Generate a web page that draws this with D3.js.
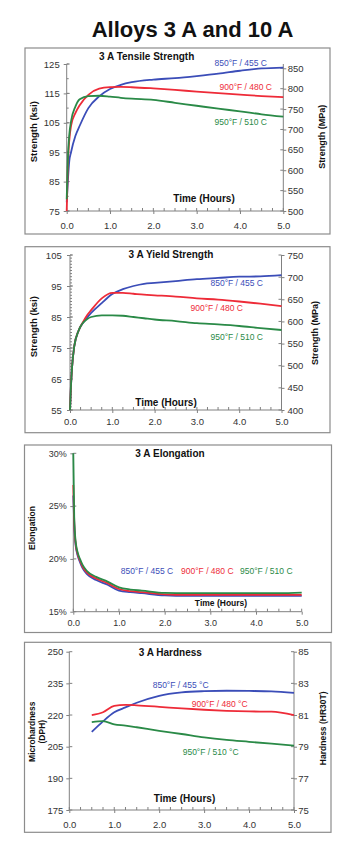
<!DOCTYPE html>
<html lang="en">
<head>
<meta charset="utf-8">
<title>Alloys 3 A and 10 A</title>
<script src="https://d3js.org/d3.v7.min.js"></script>
<style>
  body { margin: 0; background: #fff; }
</style>
</head>
<body>
<script>
// ---- data ----
var xTickValues = [0, 1, 2, 3, 4, 5];
var seriesNames = ["850°F / 455 C", "900°F / 480 C", "950°F / 510 C"];
var hardnessNames = ["850°F / 455 °C", "900°F / 480 °C", "950°F / 510 °C"];

// tensile strength (ksi)
var tensileHours = [0, 0.03, 0.06, 0.1, 0.2, 0.3, 0.5, 0.75, 1.0, 1.25, 1.5, 2.0, 2.5, 3.0, 3.5, 4.0, 4.5, 5.0];
var tensile850 = [78, 86, 92, 95, 100.5, 104, 110, 114, 116.5, 117.9, 118.8, 119.7, 120.2, 120.9, 121.7, 122.7, 123.5, 123.8];
var tensile900 = [75, 92, 99, 104, 108.3, 111, 114.5, 116.6, 117.1, 117.2, 117.1, 116.7, 116.2, 115.6, 115.1, 114.6, 114.1, 113.7];
var tensile950 = [79, 94, 101, 105.5, 110.5, 113, 114.1, 114.2, 113.9, 113.5, 113.2, 112.8, 111.8, 110.8, 109.8, 108.9, 107.9, 107.1];
var tensileTicks = [75, 85, 95, 105, 115, 125];
var tensileMpaTicks = [500, 550, 600, 650, 700, 750, 800, 850];

// yield strength (ksi)
var yieldHours = [0, 0.02, 0.05, 0.1, 0.2, 0.3, 0.4, 0.5, 0.75, 1.0, 1.25, 1.5, 1.75, 2.0, 2.5, 3.0, 3.5, 4.0, 4.5, 5.0];
var yield850 = [55, 62, 69, 75.5, 80.5, 83, 84.7, 86.3, 89.5, 92.4, 94, 95, 95.7, 96, 96.6, 97.2, 97.6, 98, 98.1, 98.5];
var yield900 = [55, 62, 69, 75.5, 80.5, 83.2, 85.5, 87.2, 91, 92.8, 92.8, 92.5, 92.2, 92, 91.6, 91, 90.6, 90, 89.3, 88.5];
var yield950 = [55, 62, 69, 75.5, 80.5, 83, 84.3, 85, 85.5, 85.5, 85.4, 85, 84.6, 84.2, 83.7, 83, 82.6, 82.1, 81.4, 80.8];
var yieldTicks = [55, 65, 75, 85, 95, 105];
var yieldMpaTicks = [400, 450, 500, 550, 600, 650, 700, 750];

// elongation (%)
var elongHours = [0, 0.02, 0.05, 0.1, 0.15, 0.2, 0.3, 0.5, 0.75, 1.0, 1.25, 1.5, 2.0, 2.5, 3.0, 3.5, 4.0, 4.5, 5.0];
var elong850 = [26, 23.3, 21.3, 20.25, 19.65, 19.15, 18.55, 18.0, 17.55, 17.0, 16.85, 16.75, 16.55, 16.5, 16.5, 16.5, 16.5, 16.5, 16.5];
var elong900 = [27, 23.5, 21.5, 20.4, 19.8, 19.3, 18.7, 18.15, 17.7, 17.15, 16.95, 16.85, 16.65, 16.6, 16.6, 16.6, 16.6, 16.6, 16.6];
var elong950 = [30, 24, 21.7, 20.55, 19.95, 19.45, 18.85, 18.3, 17.85, 17.3, 17.1, 17.0, 16.78, 16.75, 16.75, 16.75, 16.75, 16.75, 16.8];
var elongTicks = [15, 20, 25, 30];

// hardness (DPH)
var hardHours = [0.5, 0.75, 1.0, 1.25, 1.5, 2.0, 2.5, 3.0, 3.5, 4.0, 4.5, 5.0];
var hard850 = [212, 217, 221.3, 223.6, 225.8, 229.1, 230.7, 231.3, 231.5, 231.4, 231.2, 230.5];
var hard900 = [220, 221.3, 224.3, 224.8, 224.6, 223.9, 223.1, 222.5, 222, 221.7, 221.6, 220];
var hard950 = [216.6, 217.1, 215.6, 215, 214.2, 212.5, 211, 209.4, 208.2, 207.3, 206.4, 205.5];
var hardTicks = [175, 190, 205, 220, 235, 250];
var hr30tTicks = [75, 77, 79, 81, 83, 85];

// ---- drawing ----
var FONT = '"Liberation Sans", Arial, sans-serif';
var colors = ["#3b4db8", "#ee2b38", "#2a8a47"];
var axisColor = "#808080";

var svg = d3.select("body").append("svg")
    .attr("width", 359)
    .attr("height", 855);

svg.append("text")
    .attr("x", 192.5).attr("y", 37.3)
    .attr("text-anchor", "middle")
    .attr("font-family", FONT).attr("font-size", 22).attr("font-weight", "bold")
    .attr("fill", "#111")
    .text("Alloys 3 A and 10 A");

var panels = [
  { box: [25, 48, 330, 234], x0: 66.7, x1: 283.3, yTop: 64, yBot: 211,
    yDomain: [75, 125], yTicks: tensileTicks, yMinor: 5, yFmt: function(d){ return d; },
    yPad: 4, xPad: 8.3, tickFs: 9.5,
    right: { domain: [500, 850], top: 68.3, ticks: tensileMpaTicks, pad: 1.5 },
    title: "3 A Tensile Strength", titleX: 146.7, titleY: 60,
    xLabel: { x: 204, y: 202, fs: 10 },
    yLabel: { lines: ["Strength (ksi)"], x: [33.3], y: 131.7, fs: 9.5 },
    rLabel: { text: "Strength (MPa)", x: 321.7, y: 136.7, fs: 9 },
    hours: tensileHours, series: [tensile850, tensile900, tensile950], names: seriesNames,
    labels: [ { x: 267, y: 66.4, anchor: "end" }, { x: 272, y: 89.7, anchor: "end" }, { x: 267, y: 124.7, anchor: "end" } ] },
  { box: [25, 246.7, 330, 432.7], x0: 70, x1: 281.5, yTop: 255, yBot: 410,
    yDomain: [55, 105], yTicks: yieldTicks, yMinor: 1, yFmt: function(d){ return d; },
    yPad: 5.3, xPad: 5.3, tickFs: 9.5,
    right: { domain: [400, 750], top: 255, ticks: yieldMpaTicks, pad: 3 },
    title: "3 A Yield Strength", titleX: 171, titleY: 258,
    xLabel: { x: 166, y: 405.5, fs: 10 },
    yLabel: { lines: ["Strength (ksi)"], x: [33.3], y: 326.7, fs: 9.5 },
    rLabel: { text: "Strength (MPa)", x: 315, y: 333, fs: 9 },
    hours: yieldHours, series: [yield850, yield900, yield950], names: seriesNames,
    labels: [ { x: 263, y: 286.3, anchor: "end" }, { x: 243, y: 311.4, anchor: "end" }, { x: 263, y: 340.4, anchor: "end" } ] },
  { box: [24.5, 445, 331.5, 632.5], x0: 73.3, x1: 301.7, yTop: 453.3, yBot: 611.7,
    yDomain: [15, 30], yTicks: elongTicks, yMinor: 0, yFmt: function(d){ return d + "%"; },
    yPad: 3.6, xPad: 4.9, tickFs: 9,
    right: null,
    title: "3 A Elongation", titleX: 170, titleY: 457,
    xLabel: { x: 221, y: 605.5, fs: 8.5 },
    yLabel: { lines: ["Elongation"], x: [31.7], y: 528, fs: 8.5 },
    rLabel: null,
    hours: elongHours, series: [elong850, elong900, elong950], names: seriesNames,
    labels: [ { x: 120.7, y: 573.7, anchor: "start" }, { x: 181, y: 573.7, anchor: "start" }, { x: 240, y: 573.7, anchor: "start" } ] },
  { box: [24.5, 642.3, 331, 832.3], x0: 69.3, x1: 294, yTop: 651.7, yBot: 810,
    yDomain: [175, 250], yTicks: hardTicks, yMinor: 0, yFmt: function(d){ return d; },
    yPad: 3, xPad: 8, tickFs: 9.5,
    right: { domain: [75, 85], top: 651.7, ticks: hr30tTicks, pad: 1.3 },
    title: "3 A Hardness", titleX: 170.3, titleY: 656,
    xLabel: { x: 184.5, y: 802, fs: 10 },
    yLabel: { lines: ["Microhardness", "(DPH)"], x: [31.7, 41.7], y: 731.7, fs: 8.5 },
    rLabel: { text: "Hardness (HR30T)", x: 323.3, y: 728.3, fs: 8.5 },
    hours: hardHours, series: [hard850, hard900, hard950], names: hardnessNames,
    labels: [ { x: 152.7, y: 688, anchor: "start" }, { x: 191.7, y: 707, anchor: "start" }, { x: 182.7, y: 755.4, anchor: "start" } ] }
];

function styleAxis(sel, fs) {
  sel.attr("font-family", FONT).attr("font-size", fs);
  sel.select(".domain").remove();
  sel.selectAll(".tick line").attr("stroke", axisColor);
  sel.selectAll(".tick text").attr("fill", "#333");
}

function drawPanel(p) {
  var g = svg.append("g");

  g.append("rect")
      .attr("x", p.box[0]).attr("y", p.box[1])
      .attr("width", p.box[2] - p.box[0]).attr("height", p.box[3] - p.box[1])
      .attr("fill", "none").attr("stroke", "#8c8c8c").attr("stroke-width", 1.2);

  var x = d3.scaleLinear().domain([0, 5]).range([p.x0, p.x1]);
  var y = d3.scaleLinear().domain(p.yDomain).range([p.yBot, p.yTop]);

  // x axis: small inward ticks every quarter hour
  g.selectAll(".xminor")
      .data(d3.range(0, 5.001, 0.25))
      .enter().append("line")
      .attr("x1", function(d){ return x(d); }).attr("x2", function(d){ return x(d); })
      .attr("y1", p.yBot).attr("y2", p.yBot - 3)
      .attr("stroke", axisColor);
  var xa = g.append("g")
      .attr("transform", "translate(0," + p.yBot + ")")
      .call(d3.axisBottom(x).tickValues(xTickValues).tickFormat(d3.format(".1f"))
            .tickSizeOuter(0).tickSizeInner(3).tickPadding(p.xPad));
  styleAxis(xa, p.tickFs);
  g.append("line")
      .attr("x1", p.x0).attr("x2", p.x1).attr("y1", p.yBot).attr("y2", p.yBot)
      .attr("stroke", axisColor);

  // left axis
  if (p.yMinor) {
    g.selectAll(".yminor")
        .data(d3.range(p.yDomain[0], p.yDomain[1] + 0.001, p.yMinor))
        .enter().append("line")
        .attr("x1", p.x0).attr("x2", p.x0 + 2)
        .attr("y1", function(d){ return y(d); }).attr("y2", function(d){ return y(d); })
        .attr("stroke", axisColor);
  }
  g.selectAll(".yin")
      .data(p.yTicks)
      .enter().append("line")
      .attr("x1", p.x0).attr("x2", p.x0 + 3)
      .attr("y1", function(d){ return y(d); }).attr("y2", function(d){ return y(d); })
      .attr("stroke", axisColor);
  var ya = g.append("g")
      .attr("transform", "translate(" + p.x0 + ",0)")
      .call(d3.axisLeft(y).tickValues(p.yTicks).tickFormat(p.yFmt)
            .tickSizeOuter(0).tickSizeInner(3).tickPadding(p.yPad));
  styleAxis(ya, p.tickFs);
  g.append("line")
      .attr("x1", p.x0).attr("x2", p.x0).attr("y1", p.yTop).attr("y2", p.yBot)
      .attr("stroke", axisColor);

  // right axis
  if (p.right) {
    var yr = d3.scaleLinear().domain(p.right.domain).range([p.yBot, p.right.top]);
    g.selectAll(".rin")
        .data(p.right.ticks)
        .enter().append("line")
        .attr("x1", p.x1 - 3).attr("x2", p.x1)
        .attr("y1", function(d){ return yr(d); }).attr("y2", function(d){ return yr(d); })
        .attr("stroke", axisColor);
    var ra = g.append("g")
        .attr("transform", "translate(" + p.x1 + ",0)")
        .call(d3.axisRight(yr).tickValues(p.right.ticks)
              .tickSizeOuter(0).tickSizeInner(3).tickPadding(p.right.pad));
    styleAxis(ra, p.tickFs);
    g.append("line")
        .attr("x1", p.x1).attr("x2", p.x1).attr("y1", p.yTop).attr("y2", p.yBot)
        .attr("stroke", axisColor);
  }

  // series lines
  var line = d3.line()
      .x(function(d, i){ return x(p.hours[i]); })
      .y(function(d){ return y(d); })
      .curve(d3.curveMonotoneX);
  p.series.forEach(function(s, i) {
    g.append("path")
        .datum(s)
        .attr("d", line)
        .attr("fill", "none")
        .attr("stroke", colors[i])
        .attr("stroke-width", 1.8);
  });

  // series labels
  p.labels.forEach(function(l, i) {
    g.append("text")
        .attr("x", l.x).attr("y", l.y)
        .attr("text-anchor", l.anchor)
        .attr("font-family", FONT).attr("font-size", 8.5)
        .attr("fill", colors[i])
        .text(p.names[i]);
  });

  // titles
  g.append("text")
      .attr("x", p.titleX).attr("y", p.titleY)
      .attr("text-anchor", "middle")
      .attr("font-family", FONT).attr("font-size", 10).attr("font-weight", "bold")
      .attr("fill", "#111")
      .text(p.title);
  g.append("text")
      .attr("x", p.xLabel.x).attr("y", p.xLabel.y)
      .attr("text-anchor", "middle")
      .attr("font-family", FONT).attr("font-size", p.xLabel.fs).attr("font-weight", "bold")
      .attr("fill", "#111")
      .text("Time (Hours)");
  p.yLabel.lines.forEach(function(t, i) {
    g.append("text")
        .attr("transform", "translate(" + p.yLabel.x[i] + "," + p.yLabel.y + ") rotate(-90)")
        .attr("dy", "0.35em")
        .attr("text-anchor", "middle")
        .attr("font-family", FONT).attr("font-size", p.yLabel.fs).attr("font-weight", "bold")
        .attr("fill", "#111")
        .text(t);
  });
  if (p.rLabel) {
    g.append("text")
        .attr("transform", "translate(" + p.rLabel.x + "," + p.rLabel.y + ") rotate(-90)")
        .attr("dy", "0.35em")
        .attr("text-anchor", "middle")
        .attr("font-family", FONT).attr("font-size", p.rLabel.fs).attr("font-weight", "bold")
        .attr("fill", "#111")
        .text(p.rLabel.text);
  }
}

panels.forEach(drawPanel);
</script>
</body>
</html>
